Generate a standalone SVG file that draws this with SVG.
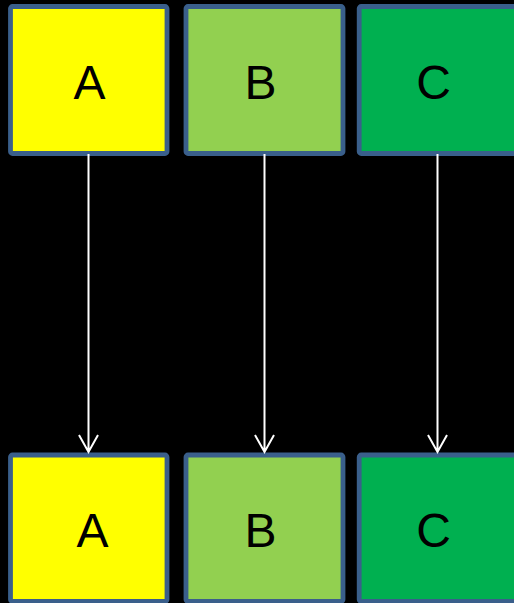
<svg xmlns="http://www.w3.org/2000/svg" width="514" height="603" viewBox="0 0 514 603">
<style>
.box{stroke:#3A5F8B;stroke-width:4.8}
.lbl{font-family:"Liberation Sans",Arial,sans-serif;font-size:48px;fill:#000;text-anchor:middle}
.conn{stroke:#fff;stroke-width:2;fill:none}
</style>
<rect x="0" y="0" width="514" height="603" fill="#000"/>
<g id="nodeA1"><rect class="box" x="10.5" y="6.5" width="156.5" height="147" rx="2" fill="#FFFF00"/><text class="lbl" x="89.5" y="99">A</text></g>
<g id="nodeB1"><rect class="box" x="186" y="6.5" width="157" height="147" rx="2" fill="#92D050"/><text class="lbl" x="260.5" y="99">B</text></g>
<g id="nodeC1"><rect class="box" x="359.2" y="6.5" width="160" height="147" rx="2" fill="#00B050"/><text class="lbl" x="433.5" y="99">C</text></g>
<g id="nodeA2"><rect class="box" x="10.5" y="455" width="156.5" height="146.5" rx="2" fill="#FFFF00"/><text class="lbl" x="92.5" y="546.5">A</text></g>
<g id="nodeB2"><rect class="box" x="186" y="455" width="157" height="146.5" rx="2" fill="#92D050"/><text class="lbl" x="260.5" y="546.5">B</text></g>
<g id="nodeC2"><rect class="box" x="359.2" y="455" width="160" height="146.5" rx="2" fill="#00B050"/><text class="lbl" x="433.5" y="546.5">C</text></g>
<g id="connectors">
<path class="conn" d="M88.5 154V452M79 435L88.5 452L98 435"/>
<path class="conn" d="M264.5 154V452M255 435L264.5 452L274 435"/>
<path class="conn" d="M437.5 154V452M428 435L437.5 452L447 435"/>
</g>
</svg>
